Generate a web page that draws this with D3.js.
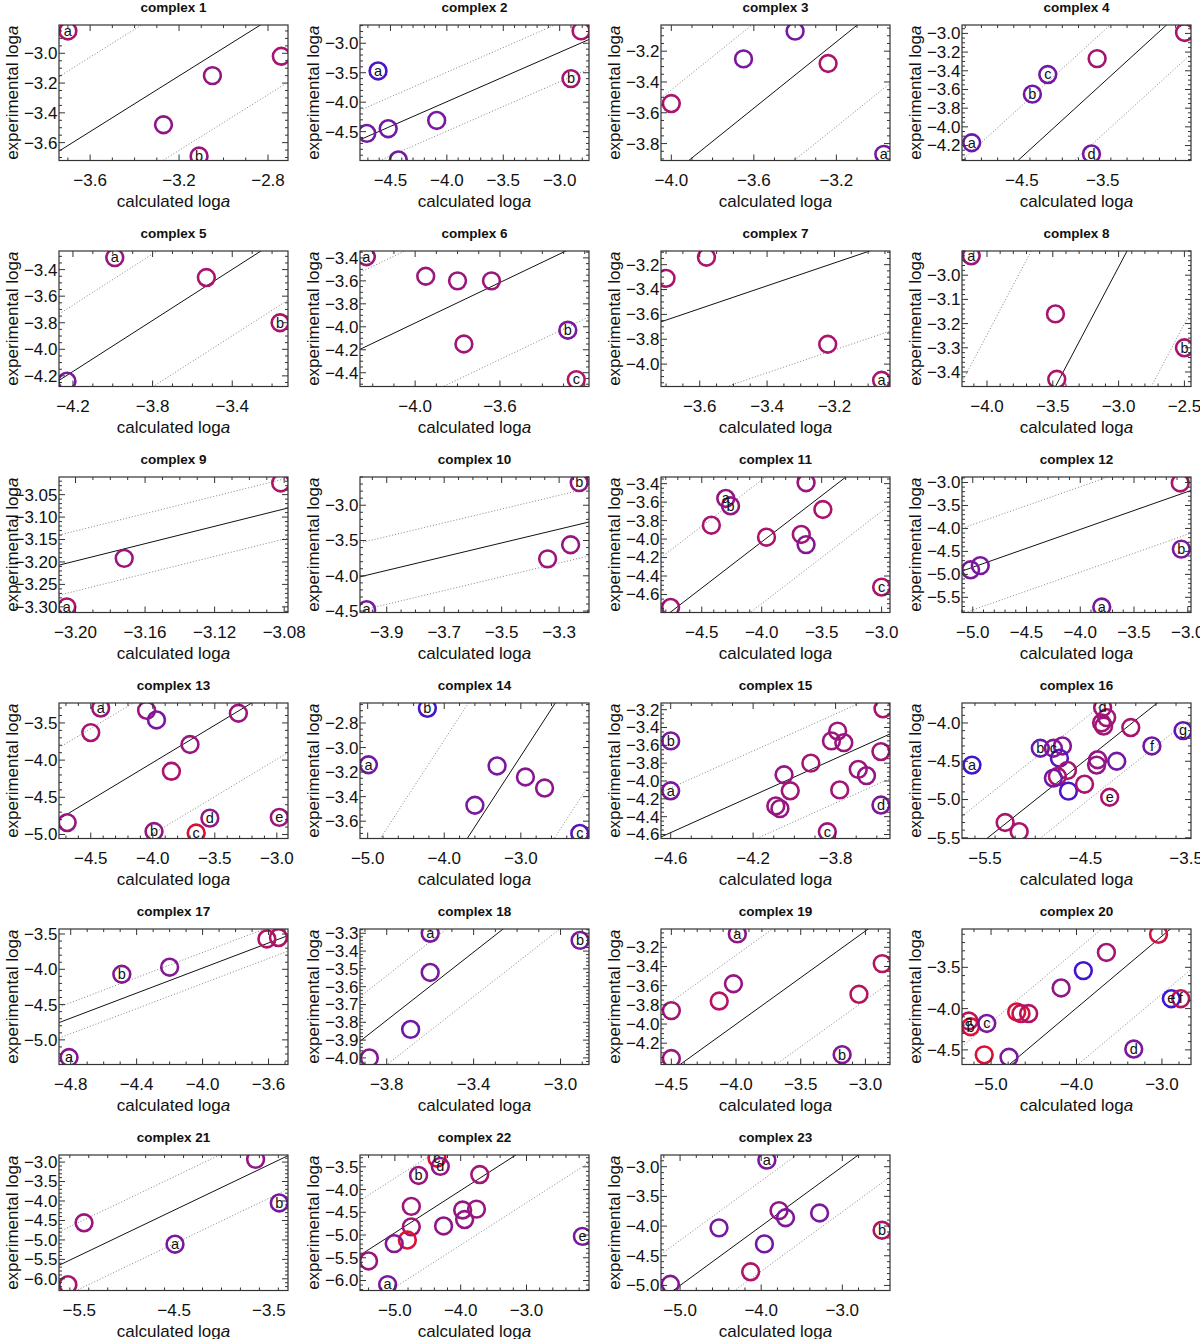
<!DOCTYPE html>
<html><head><meta charset="utf-8">
<script src="https://cdn.jsdelivr.net/npm/d3@7"></script>
<style>
body{margin:0;background:#fff}
svg{display:block}
text{font-family:"Liberation Sans",Arial,Helvetica,sans-serif}
</style>
</head><body>
<svg id="chart" width="1200" height="1339"></svg>
<script>
const titles = ["complex 1","complex 2","complex 3","complex 4","complex 5","complex 6","complex 7","complex 8",
"complex 9","complex 10","complex 11","complex 12","complex 13","complex 14","complex 15","complex 16",
"complex 17","complex 18","complex 19","complex 20","complex 21","complex 22","complex 23"];

const calcLoga = [
 [-3.70,-2.74,-3.05,-3.27,-3.11],
 [-2.81,-4.61,-2.90,-4.09,-4.52,-4.71,-4.43],
 [-3.40,-3.65,-3.24,-4.00,-2.97],
 [-2.49,-3.57,-4.18,-4.37,-5.12,-3.64],
 [-3.99,-3.53,-3.16,-4.23],
 [-4.23,-3.95,-3.80,-3.64,-3.77,-3.28,-3.24],
 [-3.58,-3.70,-3.22,-3.06],
 [-4.12,-3.48,-3.47,-2.50],
 [-3.082,-3.172,-3.205],
 [-3.23,-3.34,-3.26,-3.97],
 [-3.63,-4.30,-4.26,-3.49,-4.42,-3.96,-3.67,-3.63,-3.00,-4.76],
 [-3.07,-3.06,-5.02,-4.93,-3.80],
 [-4.42,-4.05,-3.97,-3.31,-4.50,-3.70,-3.85,-4.69,-3.99,-3.65,-3.54,-2.98],
 [-4.22,-4.99,-3.31,-2.94,-2.69,-3.60,-2.23],
 [-3.57,-4.60,-4.60,-3.82,-3.79,-3.76,-3.92,-4.05,-4.02,-4.09,-4.07,-3.69,-3.65,-3.58,-3.78,-3.58,-3.84],
 [-5.63,-4.95,-4.82,-4.73,-4.76,-4.68,-4.78,-4.82,-4.67,-4.51,-4.39,-4.38,-4.19,-4.33,-4.29,-4.34,-4.32,-4.05,-3.84,-3.53,-4.26,-5.30,-5.16],
 [-3.61,-3.54,-3.42,-4.49,-4.20,-4.81],
 [-3.60,-3.60,-3.69,-3.88,-2.91],
 [-3.99,-2.87,-4.02,-4.13,-4.50,-3.05,-3.18,-4.50],
 [-3.04,-3.65,-3.92,-4.18,-4.70,-4.65,-4.56,-5.26,-5.24,-5.05,-5.08,-4.79,-3.33,-2.89,-2.78],
 [-3.64,-3.39,-5.45,-4.49,-5.62],
 [-4.36,-4.31,-4.64,-3.71,-4.75,-4.75,-4.81,-5.01,-4.26,-3.97,-3.94,-3.76,-5.40,-5.11,-2.15],
 [-3.93,-4.52,-3.78,-3.70,-3.28,-3.96,-4.13,-5.12,-2.51]
];

const expLoga = [
 [-2.85,-3.02,-3.15,-3.48,-3.69],
 [-2.79,-3.47,-3.60,-4.31,-4.45,-4.53,-4.98],
 [-3.07,-3.25,-3.28,-3.54,-3.87],
 [-2.99,-3.27,-3.44,-3.65,-4.17,-4.29],
 [-3.31,-3.46,-3.80,-4.24],
 [-3.39,-3.56,-3.60,-3.60,-4.15,-4.03,-4.46],
 [-3.14,-3.31,-3.84,-4.13],
 [-2.92,-3.16,-3.43,-3.30],
 [-3.024,-3.192,-3.300],
 [-2.68,-3.76,-3.56,-4.48],
 [-3.39,-3.56,-3.64,-3.68,-3.85,-3.98,-3.95,-4.06,-4.52,-4.74],
 [-3.01,-4.45,-4.90,-4.81,-5.71],
 [-3.30,-3.33,-3.46,-3.37,-3.63,-3.79,-4.15,-4.84,-4.96,-4.98,-4.78,-4.77],
 [-2.68,-3.14,-3.15,-3.24,-3.33,-3.47,-3.70],
 [-3.19,-3.55,-4.11,-3.55,-3.44,-3.57,-3.80,-3.93,-4.11,-4.28,-4.31,-3.87,-3.94,-3.67,-4.10,-4.27,-4.57],
 [-4.55,-4.33,-4.33,-4.30,-4.46,-4.62,-4.70,-4.72,-4.89,-4.80,-4.55,-4.48,-4.50,-3.80,-3.93,-4.00,-4.04,-4.06,-4.30,-4.10,-4.97,-5.30,-5.42],
 [-3.57,-3.55,-3.50,-4.07,-3.97,-5.25],
 [-3.30,-3.52,-3.84,-4.00,-3.34],
 [-3.06,-3.37,-3.58,-3.76,-3.86,-3.69,-4.32,-4.36],
 [-3.10,-3.32,-3.54,-3.75,-4.04,-4.06,-4.06,-4.15,-4.22,-4.18,-4.56,-4.59,-4.49,-3.88,-3.88],
 [-2.93,-4.05,-4.56,-5.11,-6.15],
 [-3.31,-3.49,-3.69,-3.67,-4.37,-4.82,-5.11,-5.19,-4.80,-4.45,-4.66,-4.43,-5.57,-6.09,-5.03],
 [-2.89,-4.03,-3.74,-3.86,-3.78,-4.30,-4.77,-4.98,-4.07]
];

const pointTags = [
 ["a","","","","b"],
 ["","a","b","","","",""],
 ["","","","","a"],
 ["","","c","b","a","d"],
 ["a","","b",""],
 ["a","","","","","b","c"],
 ["","","","a"],
 ["a","","","b"],
 ["","","a"],
 ["b","","","a"],
 ["","a","b","","","","","","c",""],
 ["","b","","","a"],
 ["a","","","","","","","","b","c","d","e"],
 ["b","a","","","","","c"],
 ["","b","a","","","","","","","","","","","","","d","c"],
 ["a","b","c","","","","","","","","","","","d","","","","","f","g","e","",""],
 ["","","","b","","a"],
 ["a","","","","b"],
 ["a","","","","","","b",""],
 ["","","","","","","","a","b","c","","","d","e","f"],
 ["","b","","a",""],
 ["c","d","b","","","","","","","","","","","a","e"],
 ["a","","","","","","","","b"]
];

// 0 = blue, 0.5 = purple, 1 = red
const pointHue = [
 [0.72,0.70,0.62,0.60,0.65],
 [0.72,0.20,0.70,0.50,0.45,0.45,0.45],
 [0.48,0.50,0.72,0.72,0.48],
 [0.72,0.70,0.45,0.45,0.42,0.48],
 [0.65,0.72,0.72,0.50],
 [0.65,0.65,0.65,0.65,0.68,0.50,0.75],
 [0.72,0.72,0.72,0.70],
 [0.65,0.72,0.72,0.72],
 [0.75,0.65,0.72],
 [0.62,0.65,0.62,0.48],
 [0.65,0.62,0.62,0.72,0.72,0.72,0.68,0.55,0.72,0.68],
 [0.72,0.50,0.50,0.50,0.50],
 [0.65,0.65,0.48,0.65,0.72,0.65,0.72,0.65,0.62,0.92,0.62,0.65],
 [0.15,0.45,0.50,0.55,0.58,0.50,0.30],
 [0.72,0.50,0.50,0.65,0.65,0.65,0.68,0.62,0.68,0.65,0.62,0.65,0.62,0.68,0.68,0.52,0.65],
 [0.15,0.40,0.55,0.55,0.30,0.72,0.72,0.45,0.20,0.72,0.62,0.62,0.45,0.68,0.68,0.68,0.68,0.72,0.45,0.35,0.72,0.72,0.72],
 [0.75,0.75,0.68,0.55,0.55,0.55],
 [0.50,0.50,0.42,0.55,0.50],
 [0.60,0.78,0.62,0.78,0.68,0.78,0.55,0.65],
 [0.90,0.68,0.15,0.60,0.95,0.85,0.75,0.80,0.95,0.50,0.95,0.50,0.50,0.12,0.80],
 [0.62,0.48,0.65,0.50,0.72],
 [0.95,0.60,0.65,0.68,0.65,0.65,0.95,0.55,0.60,0.62,0.62,0.65,0.65,0.50,0.50],
 [0.50,0.48,0.62,0.50,0.50,0.45,0.75,0.55,0.75]
];

const xDomains = [
 [-3.74,-2.71],[-4.77,-2.74],[-4.05,-2.94],[-5.24,-2.41],
 [-4.27,-3.12],[-4.26,-3.18],[-3.715,-3.035],[-4.19,-2.45],
 [-3.2095,-3.0778],[-3.993,-3.196],[-4.84,-2.93],[-5.10,-2.97],
 [-4.756,-2.91],[-5.10,-2.11],[-4.647,-3.536],[-5.729,-3.451],
 [-4.871,-3.482],[-3.923,-2.869],[-4.58,-2.81],[-5.34,-2.66],
 [-5.714,-3.298],[-5.53,-2.05],[-5.235,-2.412]
];
const yDomains = [
 [-3.72,-2.81],[-4.99,-2.69],[-3.91,-3.03],[-4.36,-2.91],
 [-4.28,-3.26],[-4.52,-3.34],[-4.18,-3.09],[-3.46,-2.90],
 [-3.3126,-3.0107],[-4.52,-2.60],[-4.795,-3.328],[-5.83,-2.88],
 [-5.054,-3.232],[-3.741,-2.637],[-4.645,-3.125],[-5.509,-3.739],
 [-5.349,-3.429],[-4.037,-3.276],[-4.422,-3.009],[-4.677,-3.036],
 [-6.30,-2.818],[-6.22,-3.24],[-5.085,-2.803]
];

const xTickLabels = [
 [-3.6,-3.2,-2.8],[-4.5,-4.0,-3.5,-3.0],[-4.0,-3.6,-3.2],[-4.5,-3.5],
 [-4.2,-3.8,-3.4],[-4.0,-3.6],[-3.6,-3.4,-3.2],[-4.0,-3.5,-3.0,-2.5],
 [-3.20,-3.16,-3.12,-3.08],[-3.9,-3.7,-3.5,-3.3],[-4.5,-4.0,-3.5,-3.0],[-5.0,-4.5,-4.0,-3.5,-3.0],
 [-4.5,-4.0,-3.5,-3.0],[-5.0,-4.0,-3.0],[-4.6,-4.2,-3.8],[-5.5,-4.5,-3.5],
 [-4.8,-4.4,-4.0,-3.6],[-3.8,-3.4,-3.0],[-4.5,-4.0,-3.5,-3.0],[-5.0,-4.0,-3.0],
 [-5.5,-4.5,-3.5],[-5.0,-4.0,-3.0],[-5.0,-4.0,-3.0]
];
const yTickLabels = [
 [-3.0,-3.2,-3.4,-3.6],[-3.0,-3.5,-4.0,-4.5],[-3.2,-3.4,-3.6,-3.8],[-3.0,-3.2,-3.4,-3.6,-3.8,-4.0,-4.2],
 [-3.4,-3.6,-3.8,-4.0,-4.2],[-3.4,-3.6,-3.8,-4.0,-4.2,-4.4],[-3.2,-3.4,-3.6,-3.8,-4.0],[-3.0,-3.1,-3.2,-3.3,-3.4],
 [-3.05,-3.10,-3.15,-3.20,-3.25,-3.30],[-3.0,-3.5,-4.0,-4.5],[-3.4,-3.6,-3.8,-4.0,-4.2,-4.4,-4.6],[-3.0,-3.5,-4.0,-4.5,-5.0,-5.5],
 [-3.5,-4.0,-4.5,-5.0],[-2.8,-3.0,-3.2,-3.4,-3.6],[-3.2,-3.4,-3.6,-3.8,-4.0,-4.2,-4.4,-4.6],[-4.0,-4.5,-5.0,-5.5],
 [-3.5,-4.0,-4.5,-5.0],[-3.3,-3.4,-3.5,-3.6,-3.7,-3.8,-3.9,-4.0],[-3.2,-3.4,-3.6,-3.8,-4.0,-4.2],[-3.5,-4.0,-4.5],
 [-3.0,-3.5,-4.0,-4.5,-5.0,-5.5,-6.0],[-3.5,-4.0,-4.5,-5.0,-5.5,-6.0],[-3.0,-3.5,-4.0,-4.5,-5.0]
];

// reference line y = slope*x + intercept, dotted lines at +/- band
const fitSlope = [0.935,0.838,1.077,0.79,0.961,0.882,0.92,1.03,0.967,0.974,1.0,0.824,1.005,0.96,1.04,1.044,0.888,0.957,0.972,0.871,1.166,0.93,1.0];
const fitIntercept = [-0.16,-0.64,0.307,-0.767,-0.131,-0.439,-0.242,0.124,-0.1035,-0.125,-0.03,-0.725,-0.013,-0.189,0.205,0.214,-0.43,-0.152,-0.114,-0.509,1.01,-0.30,0.0];
const bandHalf = [0.5,0.5,0.55,0.55,0.5,0.67,0.7,0.75,0.067,0.48,0.67,0.93,0.96,1.09,0.5,0.55,0.22,0.25,0.72,0.7,0.86,1.2,0.76];

const W = 229, H = 135.5;
const svg = d3.select("#chart");
const hueColor = d3.scaleLinear().domain([0,0.5,1]).range(["#2c14e6","#7a189e","#e6102c"]).interpolate(d3.interpolateRgb);

function minorStep(step){
  const lead = Math.round(step/Math.pow(10,Math.floor(Math.log10(step)+1e-9)));
  return (lead===2||lead===4) ? step/4 : step/5;
}

titles.forEach((title,i)=>{
  const col = i%4, row = Math.floor(i/4);
  const L = 59 + 301*col, T = 25 + 226*row;
  const g = svg.append("g").attr("transform",`translate(${L},${T})`);
  const x = d3.scaleLinear().domain(xDomains[i]).range([0,W]);
  const y = d3.scaleLinear().domain(yDomains[i]).range([H,0]);

  const clipId = "clip"+i;
  g.append("clipPath").attr("id",clipId).append("rect").attr("width",W).attr("height",H);
  const plot = g.append("g").attr("clip-path",`url(#${clipId})`);

  const [x0,x1] = xDomains[i];
  const m = fitSlope[i], c = fitIntercept[i], d = bandHalf[i];
  const line = d3.line().x(p=>x(p[0])).y(p=>y(p[1]));
  const seg = off => [[x0, m*x0+c+off],[x1, m*x1+c+off]];
  [d,-d].forEach(off=>{
    plot.append("path").attr("d",line(seg(off))).attr("fill","none")
      .attr("stroke","#777").attr("stroke-width",0.9).attr("stroke-dasharray","1,2");
  });
  plot.append("path").attr("d",line(seg(0))).attr("fill","none").attr("stroke","#111").attr("stroke-width",1);

  const pts = calcLoga[i].map((v,k)=>({x:v,y:expLoga[i][k],tag:pointTags[i][k],h:pointHue[i][k]}));
  plot.selectAll("circle.pt").data(pts).join("circle").attr("class","pt")
    .attr("cx",p=>x(p.x)).attr("cy",p=>y(p.y)).attr("r",8.4)
    .attr("fill","none").attr("stroke",p=>hueColor(p.h)).attr("stroke-width",2.6);
  plot.selectAll("text.tag").data(pts.filter(p=>p.tag)).join("text").attr("class","tag")
    .attr("x",p=>x(p.x)).attr("y",p=>y(p.y)).attr("dy","0.33em")
    .attr("text-anchor","middle").attr("font-size",14.5).attr("fill","#111").text(p=>p.tag);

  // ticks (inward on all four sides)
  const tg = g.append("g").attr("stroke","#333").attr("stroke-width",1);
  const xt = xTickLabels[i], yt = yTickLabels[i];
  const xs = Math.abs(xt[1]-xt[0]), ys = Math.abs(yt[1]-yt[0]);
  const xm = minorStep(xs), ym = minorStep(ys);
  const xMinor = d3.range(Math.ceil(x0/xm-1e-6), Math.floor(x1/xm+1e-6)+1).map(k=>k*xm);
  const [y0,y1] = yDomains[i];
  const yMinor = d3.range(Math.ceil(y0/ym-1e-6), Math.floor(y1/ym+1e-6)+1).map(k=>k*ym);
  xMinor.forEach(v=>{
    const isMaj = xt.some(t=>Math.abs(t-v)<xm/10);
    const len = isMaj?6:3;
    tg.append("line").attr("x1",x(v)).attr("x2",x(v)).attr("y1",H).attr("y2",H-len);
    tg.append("line").attr("x1",x(v)).attr("x2",x(v)).attr("y1",0).attr("y2",len);
  });
  yMinor.forEach(v=>{
    const isMaj = yt.some(t=>Math.abs(t-v)<ym/10);
    const len = isMaj?6:3;
    tg.append("line").attr("y1",y(v)).attr("y2",y(v)).attr("x1",0).attr("x2",len);
    tg.append("line").attr("y1",y(v)).attr("y2",y(v)).attr("x1",W).attr("x2",W-len);
  });

  g.append("rect").attr("width",W).attr("height",H).attr("fill","none").attr("stroke","#333").attr("stroke-width",1.2);

  const fx = d3.format("."+Math.max(1,d3.precisionFixed(xs))+"f");
  const fy = d3.format("."+Math.max(1,d3.precisionFixed(ys))+"f");
  g.selectAll("text.xt").data(xt).join("text").attr("class","xt")
    .attr("x",v=>x(v)).attr("y",H+25).attr("text-anchor","middle").attr("font-size",17).attr("fill","#111").text(v=>fx(v));
  g.selectAll("text.yt").data(yt).join("text").attr("class","yt")
    .attr("x",-1.5).attr("y",v=>y(v)).attr("dy","0.35em").attr("text-anchor","end").attr("font-size",17).attr("fill","#111").text(v=>fy(v));

  const xl = g.append("text").attr("x",W/2).attr("y",H+46).attr("text-anchor","middle").attr("font-size",17).attr("fill","#111");
  xl.append("tspan").text("calculated log");
  xl.append("tspan").attr("font-style","italic").text("a");
  const yl = g.append("text").attr("transform",`translate(-41,${H/2}) rotate(-90)`).attr("text-anchor","middle").attr("font-size",17).attr("fill","#111");
  yl.append("tspan").text("experimental log");
  yl.append("tspan").attr("font-style","italic").text("a");

  g.append("text").attr("x",W/2).attr("y",-13).attr("text-anchor","middle").attr("font-size",13.5).attr("font-weight","bold").attr("fill","#111").text(title);
});
</script>
</body></html>
